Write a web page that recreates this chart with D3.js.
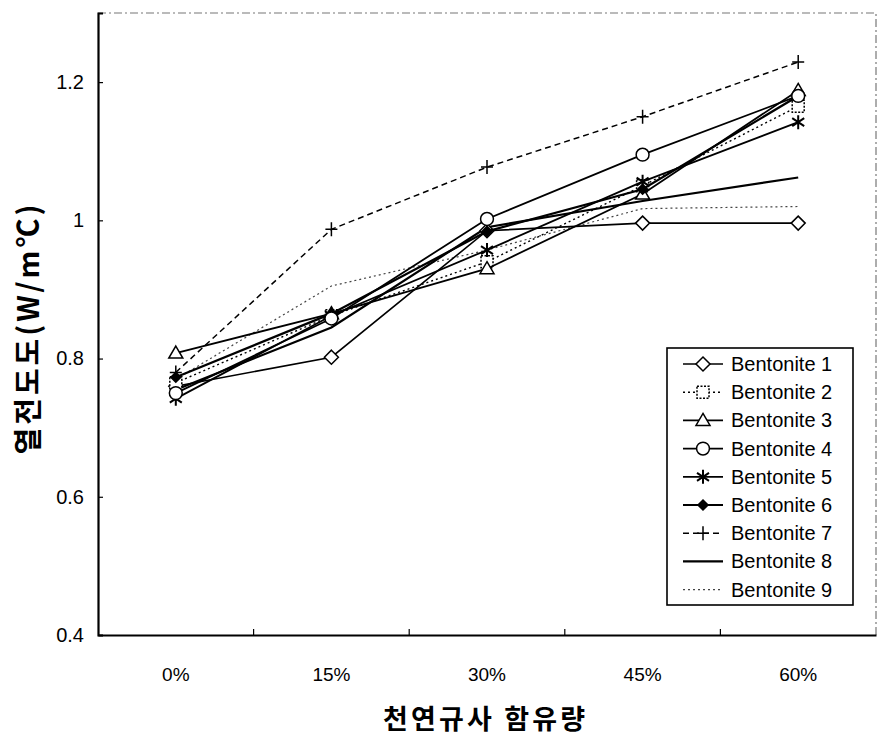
<!DOCTYPE html>
<html>
<head>
<meta charset="utf-8">
<script src="https://cdn.jsdelivr.net/npm/d3@7"></script>
<style>
  html, body { margin: 0; padding: 0; background: #fff; }
  svg { display: block; }
</style>
</head>
<body>
<svg id="chart" width="878" height="738"></svg>
<script>
// Sand content categories (x axis)
const categories = ["0%", "15%", "30%", "45%", "60%"];

// Thermal conductivity (W/m℃) for each bentonite mix
const bentonite1 = [0.760, 0.802, 0.985, 0.996, 0.996];
const bentonite2 = [0.765, 0.862, 0.940, 1.050, 1.165];
const bentonite3 = [0.808, 0.865, 0.930, 1.038, 1.188];
const bentonite4 = [0.750, 0.858, 1.002, 1.095, 1.180];
const bentonite5 = [0.742, 0.862, 0.957, 1.056, 1.142];
const bentonite6 = [0.773, 0.865, 0.984, 1.045, 1.180];
const bentonite7 = [0.780, 0.987, 1.077, 1.150, 1.229];
const bentonite8 = [0.755, 0.845, 0.990, 1.028, 1.062];
const bentonite9 = [0.770, 0.905, 0.957, 1.017, 1.020];

const seriesNames = ["Bentonite 1", "Bentonite 2", "Bentonite 3", "Bentonite 4", "Bentonite 5",
                     "Bentonite 6", "Bentonite 7", "Bentonite 8", "Bentonite 9"];
const yTicks = [0.4, 0.6, 0.8, 1.0, 1.2];

const seriesValues = [bentonite1, bentonite2, bentonite3, bentonite4, bentonite5,
                      bentonite6, bentonite7, bentonite8, bentonite9];

// line / marker styling per series
const styles = [
  { marker: "diamond",  width: 1.6, dash: null,  color: "#000" },
  { marker: "square",   width: 1.4, dash: "2,3", color: "#000" },
  { marker: "triangle", width: 1.8, dash: null,  color: "#000" },
  { marker: "circle",   width: 1.8, dash: null,  color: "#000" },
  { marker: "star",     width: 1.8, dash: null,  color: "#000" },
  { marker: "fdiamond", width: 2.2, dash: null,  color: "#000" },
  { marker: "plus",     width: 1.5, dash: "6,4", color: "#000" },
  { marker: "none",     width: 2.2, dash: null,  color: "#000" },
  { marker: "none",     width: 1.2, dash: "2,3", color: "#444" }
];

const svg = d3.select("#chart");
const plotLeft = 98, plotRight = 876, plotTop = 13, plotBottom = 635;

const x = d3.scaleBand().domain(categories).range([plotLeft, plotRight]).padding(0);
const xEdge = d3.scaleLinear().domain([0, categories.length]).range([plotLeft, plotRight]);
const y = d3.scaleLinear().domain([0.4, 1.3]).range([plotBottom, plotTop]);

// faint frame on top and right
svg.append("path")
  .attr("d", `M${plotLeft},${plotTop}H${plotRight}V${plotBottom}`)
  .attr("fill", "none")
  .attr("stroke", "#777")
  .attr("stroke-width", 1.2)
  .attr("stroke-dasharray", "8,3,2,3");

// y axis
const yAxis = d3.axisLeft(y)
  .tickValues(yTicks)
  .tickSize(-5)
  .tickPadding(14)
  .tickFormat(d => d === 1 ? "1" : d3.format(".1f")(d));
const yg = svg.append("g").attr("transform", `translate(${plotLeft},0)`).call(yAxis);
yg.select(".domain").attr("stroke", "#000").attr("stroke-width", 2.2);
yg.selectAll(".tick line").attr("stroke", "#000").attr("stroke-width", 1.2);
yg.selectAll(".tick text")
  .attr("font-family", "'Liberation Sans', Arial, sans-serif")
  .attr("font-size", 20)
  .attr("fill", "#000");

// x axis: labels at band centres, ticks at band edges
const xAxis = d3.axisBottom(x).tickSize(0).tickPadding(33);
const xg = svg.append("g").attr("transform", `translate(0,${plotBottom})`).call(xAxis);
xg.select(".domain").attr("stroke", "#000").attr("stroke-width", 2.2);
xg.selectAll(".tick text")
  .attr("font-family", "'Liberation Sans', Arial, sans-serif")
  .attr("font-size", 19)
  .attr("fill", "#000");
svg.append("g").selectAll("line")
  .data(d3.range(1, categories.length))
  .join("line")
  .attr("x1", d => xEdge(d)).attr("x2", d => xEdge(d))
  .attr("y1", plotBottom).attr("y2", plotBottom - 6)
  .attr("stroke", "#000").attr("stroke-width", 1.2);

// axis titles
svg.append("text")
  .attr("x", 484).attr("y", 729)
  .attr("text-anchor", "middle")
  .attr("font-family", "'Noto Sans CJK KR', sans-serif")
  .attr("font-weight", "bold")
  .attr("font-size", 27)
  .attr("textLength", 202)
  .attr("lengthAdjust", "spacing")
  .text("천연규사 함유량");

svg.append("text")
  .attr("transform", "translate(39,328) rotate(-90)")
  .attr("text-anchor", "middle")
  .attr("font-family", "'Noto Sans CJK KR', sans-serif")
  .attr("font-weight", "bold")
  .attr("font-size", 29)
  .attr("letter-spacing", 3)
  .text("열전도도(W/m℃)");

// marker shapes
function markerPath(type) {
  switch (type) {
    case "diamond": return "M0,-7L7,0L0,7L-7,0Z";
    case "fdiamond": return "M0,-5L5,0L0,5L-5,0Z";
    case "square": return "M-6,-6H6V6H-6Z";
    case "triangle": return "M0,-7L7,5H-7Z";
    case "circle": return d3.symbol(d3.symbolCircle, 130)();
    case "star": return "M0,-7V7M-6,-4L6,4M-6,4L6,-4";
    case "plus": return "M0,-7V7M-6,0H6";
    default: return null;
  }
}
function drawMarker(g, type, cx, cy) {
  const p = markerPath(type);
  if (!p) return;
  const filled = type === "fdiamond";
  const hollow = ["diamond", "square", "triangle", "circle"].includes(type);
  g.append("path")
    .attr("d", p)
    .attr("transform", `translate(${cx},${cy})`)
    .attr("fill", filled ? "#000" : (hollow ? "#fff" : "none"))
    .attr("stroke", "#000")
    .attr("stroke-width", type === "star" ? 2 : 1.5)
    .attr("stroke-dasharray", type === "square" ? "2,1.5" : null);
}

const line = d3.line()
  .x((d, i) => x(categories[i]) + x.bandwidth() / 2)
  .y(d => y(d));

// draw the light series first, heavy ones on top
const order = [8, 6, 7, 0, 1, 2, 4, 5, 3];
const plot = svg.append("g");
order.forEach(i => {
  const st = styles[i];
  const g = plot.append("g");
  g.append("path")
    .datum(seriesValues[i])
    .attr("d", line)
    .attr("fill", "none")
    .attr("stroke", st.color)
    .attr("stroke-width", st.width)
    .attr("stroke-dasharray", st.dash);
  seriesValues[i].forEach((v, j) => {
    drawMarker(g, st.marker, x(categories[j]) + x.bandwidth() / 2, y(v));
  });
});

// legend
const lg = svg.append("g");
lg.append("rect")
  .attr("x", 667).attr("y", 348)
  .attr("width", 186).attr("height", 257)
  .attr("fill", "#fff")
  .attr("stroke", "#000")
  .attr("stroke-width", 1.6);
seriesNames.forEach((name, i) => {
  const st = styles[i];
  const cy = 364 + i * 28.2;
  lg.append("line")
    .attr("x1", 683).attr("x2", 723)
    .attr("y1", cy).attr("y2", cy)
    .attr("stroke", st.color)
    .attr("stroke-width", st.width)
    .attr("stroke-dasharray", st.dash);
  drawMarker(lg, st.marker, 703, cy);
  lg.append("text")
    .attr("x", 731).attr("y", cy + 7)
    .attr("font-family", "'Liberation Sans', Arial, sans-serif")
    .attr("font-size", 20)
    .attr("fill", "#000")
    .text(name);
});
</script>
</body>
</html>
